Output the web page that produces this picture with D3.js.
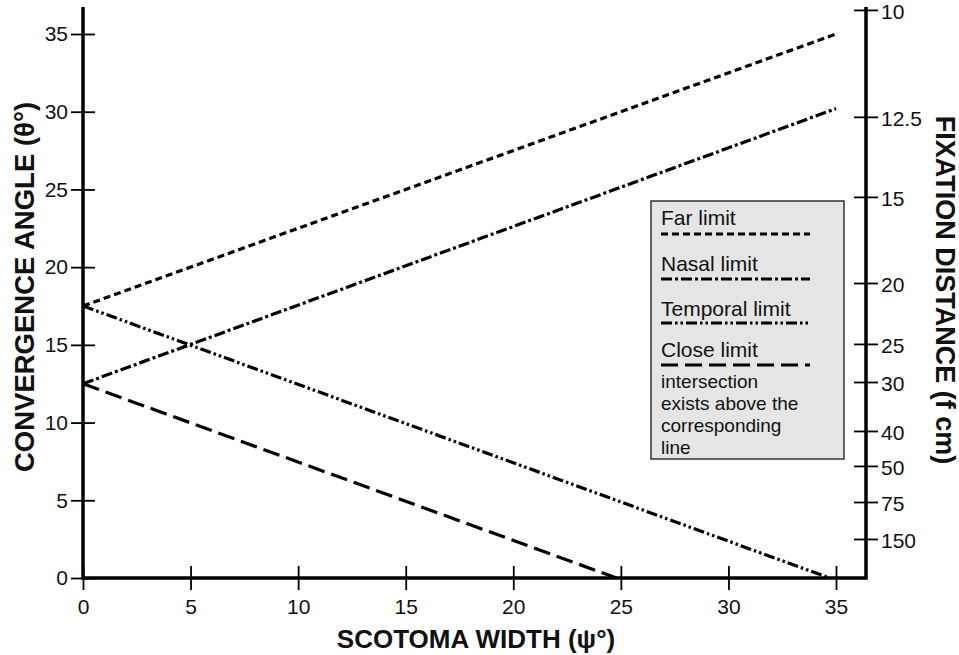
<!DOCTYPE html>
<html><head><meta charset="utf-8">
<script src="https://cdn.jsdelivr.net/npm/d3@7/dist/d3.min.js"></script>
<style>body{margin:0;background:#fff}svg{display:block}text{font-family:"Liberation Sans",Arial,sans-serif}</style>
</head><body><svg id="c" width="959" height="655"></svg>
<script>
// Data
const xTicks = [0,5,10,15,20,25,30,35];
const yTicks = [0,5,10,15,20,25,30,35];
const rightTickLabels = ["10","12.5","15","20","25","30","40","50","75","150"];
const rightTickAngles = [36.55,29.67,24.52,18.98,15.06,12.61,9.46,7.21,4.89,2.51];
const seriesNames = ["Far limit","Nasal limit","Temporal limit","Close limit"];
const seriesX = [0,35];
const farLimit = [17.5,35];
const nasalLimit = [12.5,30.2];
const temporalLimitX = [0,34.7];
const temporalLimit = [17.5,0];
const closeLimitX = [0,24.8];
const closeLimit = [12.5,0];
const noteLines = ["intersection","exists above the","corresponding","line"];

const svg = d3.select("#c");
const x = d3.scaleLinear().domain([0,35]).range([83,836]);
const y = d3.scaleLinear().domain([0,35]).range([578,34]);
const xMax = x.invert(866), yMax = y.invert(7);

const dashes = ["7,4","11,3,3,3","11,3,2.5,3,2.5,3","17,7"];
const series = [
  {name:seriesNames[0], xs:seriesX, ys:farLimit},
  {name:seriesNames[1], xs:seriesX, ys:nasalLimit},
  {name:seriesNames[2], xs:temporalLimitX, ys:temporalLimit},
  {name:seriesNames[3], xs:closeLimitX, ys:closeLimit}
];
const line = d3.line().x(d=>x(d[0])).y(d=>y(d[1]));
series.forEach((s,i)=>{
  svg.append("path").datum(s.xs.map((v,j)=>[v,s.ys[j]]))
    .attr("d",line).attr("fill","none").attr("stroke","#000")
    .attr("stroke-width",3.2).attr("stroke-dasharray",dashes[i]);
});

// Axes
function styleAxis(g, fs){
  g.select(".domain").remove();
  g.selectAll(".tick line").attr("stroke","#000").attr("stroke-width",1.8);
  g.selectAll(".tick text").attr("font-size",fs).attr("fill","#111")
   .attr("font-family",'"Liberation Sans",Arial,sans-serif');
}
const gl = svg.append("g").attr("transform","translate(83,0)")
  .call(d3.axisLeft(y).tickValues(yTicks).tickFormat(d3.format("d")).tickSize(12).tickPadding(4));
styleAxis(gl, 21);
gl.selectAll(".tick line").attr("x1",12);
gl.selectAll(".tick text").attr("x",-15);

const gb = svg.append("g").attr("transform","translate(0,578)")
  .call(d3.axisBottom(x).tickValues(xTicks).tickFormat(d3.format("d")).tickSize(12).tickPadding(8));
styleAxis(gb, 21);
gb.selectAll(".tick line").attr("y1",-12);
gb.selectAll(".tick text").attr("y",21);

const gr = svg.append("g").attr("transform","translate(866,0)")
  .call(d3.axisRight(y).tickValues(rightTickAngles)
    .tickFormat((d,i)=>rightTickLabels[i]).tickSize(12).tickPadding(3));
styleAxis(gr, 21);
gr.selectAll(".tick line").attr("x1",-12);
gr.selectAll(".tick text").attr("dy","0.42em");

// axis frame lines
const frame = d3.path();
frame.moveTo(x(0), y(yMax)); frame.lineTo(x(0), y(0)); frame.lineTo(x(xMax), y(0)); frame.lineTo(x(xMax), y(yMax));
svg.append("path").attr("d",frame.toString()).attr("fill","none").attr("stroke","#000")
  .attr("stroke-width",3.5).attr("stroke-linejoin","miter");

// Axis titles
svg.append("text").attr("transform","translate(34,287) rotate(-90)").attr("text-anchor","middle")
  .attr("font-size",27.5).attr("font-weight","bold").attr("fill","#111").text("CONVERGENCE ANGLE (θ°)");
svg.append("text").attr("x",476).attr("y",648).attr("text-anchor","middle")
  .attr("font-size",26).attr("font-weight","bold").attr("fill","#111").text("SCOTOMA WIDTH (ψ°)");
svg.append("text").attr("transform","translate(936,290) rotate(90)").attr("text-anchor","middle")
  .attr("font-size",27).attr("font-weight","bold").attr("fill","#111").text("FIXATION DISTANCE (f cm)");

// Legend
const lg = svg.append("g");
lg.append("rect").attr("x",651).attr("y",201).attr("width",193).attr("height",258)
  .attr("fill","#e5e5e5").attr("stroke","#333").attr("stroke-width",1.5);
const textY = [225,271,316,357], lineY = [234,279,323,365];
seriesNames.forEach((n,i)=>{
  lg.append("text").attr("x",661).attr("y",textY[i]).attr("font-size",21).attr("fill","#111").text(n);
  lg.append("line").attr("x1",661).attr("x2",810).attr("y1",lineY[i]).attr("y2",lineY[i])
    .attr("stroke","#000").attr("stroke-width",3.2).attr("stroke-dasharray",dashes[i]);
});
noteLines.forEach((t,i)=>{
  lg.append("text").attr("x",661).attr("y",388+i*22).attr("font-size",19).attr("fill","#111").text(t);
});
</script></body></html>
